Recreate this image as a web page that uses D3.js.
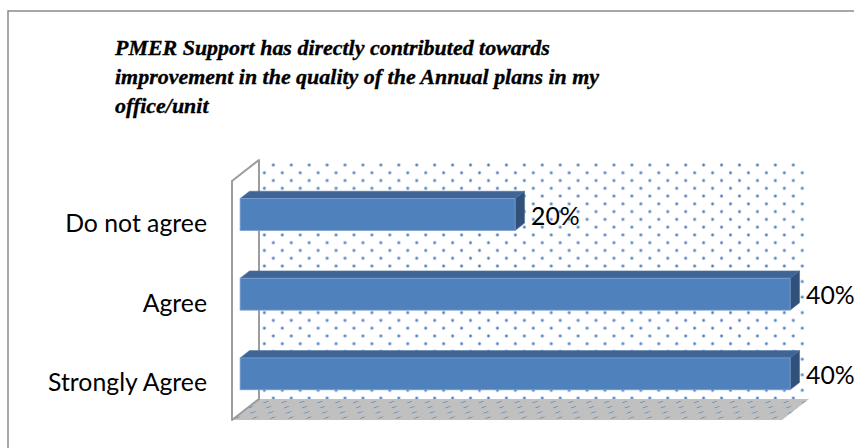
<!DOCTYPE html>
<html>
<head>
<meta charset="utf-8">
<script src="https://cdn.jsdelivr.net/npm/d3@7"></script>
<style>
  html, body { margin: 0; padding: 0; background: #fff; }
  svg { display: block; }
</style>
</head>
<body>
<svg id="chart" width="854" height="448"></svg>
<script>
// Survey responses
const categories = ["Do not agree", "Agree", "Strongly Agree"];
const values = [0.20, 0.40, 0.40];
const axisMax = 0.40;
const titleLines = [
  "PMER Support has directly contributed towards",
  "improvement in the quality of the Annual plans in my",
  "office/unit"
];

const svg = d3.select("#chart");
const defs = svg.append("defs");

// 3D plot box: front plane and depth offset
const X0 = 232, Y0 = 181, PW = 550, PH = 239;
const DX = 27, DY = -21;
const barDepth0 = 0.30, barDepth1 = 0.65;

const x = d3.scaleLinear().domain([0, axisMax]).range([X0, X0 + PW]);
const y = d3.scaleBand().domain(categories).range([Y0, Y0 + PH])
  .paddingInner(0.6).paddingOuter(0.3);

const P = (px, py, d) => [px + d * DX, py + d * DY];
const poly = pts => pts.map(p => p.join(",")).join(" ");

// font helper: size such that a sample string spans a given width
function fitSize(text, font, target) {
  const t = svg.append("text")
    .style("font-family", font.family).style("font-weight", font.weight)
    .style("font-style", font.style).style("font-size", "100px").text(text);
  const w = t.node().getComputedTextLength();
  t.remove();
  return 100 * target / w;
}

// chart frame
svg.append("rect")
  .attr("x", 8).attr("y", 11).attr("width", 900).attr("height", 500)
  .attr("fill", "#fff").attr("stroke", "#8a8a8a").attr("stroke-width", 1.5);

// title
const titleFont = { family: "'Liberation Serif', serif", weight: "bold", style: "italic" };
const titleSize = fitSize(titleLines[0], titleFont, 435);
const title = svg.append("text")
  .attr("x", 115).attr("y", 55)
  .style("font-family", titleFont.family)
  .style("font-weight", titleFont.weight).style("font-style", titleFont.style)
  .style("font-size", titleSize + "px")
  .attr("fill", "#000").attr("stroke", "#000").attr("stroke-width", 0.35);
title.selectAll("tspan").data(titleLines).join("tspan")
  .attr("x", 115).attr("dy", (d, i) => i === 0 ? 0 : 29).text(d => d);

// back wall dot pattern
const wallPat = defs.append("pattern")
  .attr("id", "wallDots").attr("patternUnits", "userSpaceOnUse")
  .attr("width", 17.93).attr("height", 15.54)
  .attr("x", 273.3 - 4.5).attr("y", 165 - 3.9);
[[4.5, 3.9], [13.46, 11.67]].forEach(([cx, cy]) => {
  wallPat.append("circle").attr("cx", cx).attr("cy", cy).attr("r", 1.9).attr("fill", "#c6d6ec");
  wallPat.append("circle").attr("cx", cx).attr("cy", cy).attr("r", 1.15).attr("fill", "#4679b8");
});

const backL = P(X0, Y0, 1), backR = P(X0 + PW, Y0 + PH, 1);
svg.append("rect")
  .attr("x", backL[0]).attr("y", backL[1])
  .attr("width", backR[0] - backL[0]).attr("height", backR[1] - backL[1])
  .attr("fill", "url(#wallDots)");

// floor pattern (slanted marks on grey)
const floorPat = defs.append("pattern")
  .attr("id", "floorDots").attr("patternUnits", "userSpaceOnUse")
  .attr("width", 17.93).attr("height", 10.4)
  .attr("x", 259).attr("y", 399)
  .attr("patternTransform", `skewX(${Math.atan(-DX / -DY) * 180 / Math.PI})`);
floorPat.append("rect").attr("width", 17.93).attr("height", 10.4).attr("fill", "#c0c0c0");
[[4, 3], [13, 8.2]].forEach(([cx, cy]) => {
  floorPat.append("line")
    .attr("x1", cx - 1.4).attr("y1", cy + 0.8).attr("x2", cx + 1.4).attr("y2", cy - 0.8)
    .attr("stroke", "#5b85b9").attr("stroke-width", 1.1);
});

svg.append("polygon")
  .attr("points", poly([P(X0, Y0 + PH, 0), P(X0, Y0 + PH, 1), P(X0 + PW, Y0 + PH, 1), P(X0 + PW, Y0 + PH, 0)]))
  .attr("fill", "url(#floorDots)");

// side wall outline
svg.append("polygon")
  .attr("points", poly([P(X0, Y0, 0), P(X0, Y0, 1), P(X0, Y0 + PH, 1), P(X0, Y0 + PH, 0)]))
  .attr("fill", "none").attr("stroke", "#9c9c9c").attr("stroke-width", 2)
  .attr("stroke-linejoin", "round");

// bars
const data = categories.map((c, i) => ({ cat: c, v: values[i] }));
const bars = svg.append("g").selectAll("g").data(data).join("g");

bars.each(function (d) {
  const g = d3.select(this);
  const xl = x(0), xr = x(d.v);
  const yt = y(d.cat), yb = y(d.cat) + y.bandwidth();
  // top face
  g.append("polygon")
    .attr("points", poly([P(xl, yt, barDepth0), P(xr, yt, barDepth0), P(xr, yt, barDepth1), P(xl, yt, barDepth1)]))
    .attr("fill", "#3f6596").attr("stroke", "#5577a6").attr("stroke-width", 0.6);
  // right face
  g.append("polygon")
    .attr("points", poly([P(xr, yt, barDepth0), P(xr, yt, barDepth1), P(xr, yb, barDepth1), P(xr, yb, barDepth0)]))
    .attr("fill", "#31517b").attr("stroke", "#4a6b98").attr("stroke-width", 0.6);
  // front face
  const fl = P(xl, yt, barDepth0), fr = P(xr, yb, barDepth0);
  g.append("rect")
    .attr("x", fl[0]).attr("y", fl[1])
    .attr("width", fr[0] - fl[0]).attr("height", fr[1] - fl[1])
    .attr("fill", "#4f81bd").attr("stroke", "#7a9fcf").attr("stroke-width", 0.8);
});

// category labels
const labelFont = { family: "Lato, 'Open Sans', sans-serif", weight: "normal", style: "normal" };
const labelSize = fitSize("Strongly Agree", labelFont, 159);
svg.append("g").selectAll("text").data(categories).join("text")
  .attr("x", 207)
  .attr("y", d => y(d) + y.bandwidth() / 2 + 11)
  .attr("text-anchor", "end")
  .style("font-family", labelFont.family)
  .style("font-size", labelSize + "px")
  .attr("fill", "#000")
  .text(d => d);

// value labels
const fmt = d3.format(".0%");
svg.append("g").selectAll("text").data(data).join("text")
  .attr("x", d => P(x(d.v), 0, barDepth0)[0] + 16)
  .attr("y", d => P(0, y(d.cat) + y.bandwidth() / 2, barDepth0)[1] + 10)
  .style("font-family", labelFont.family)
  .style("font-size", labelSize + "px")
  .attr("fill", "#000")
  .text(d => fmt(d.v));
</script>
</body>
</html>
